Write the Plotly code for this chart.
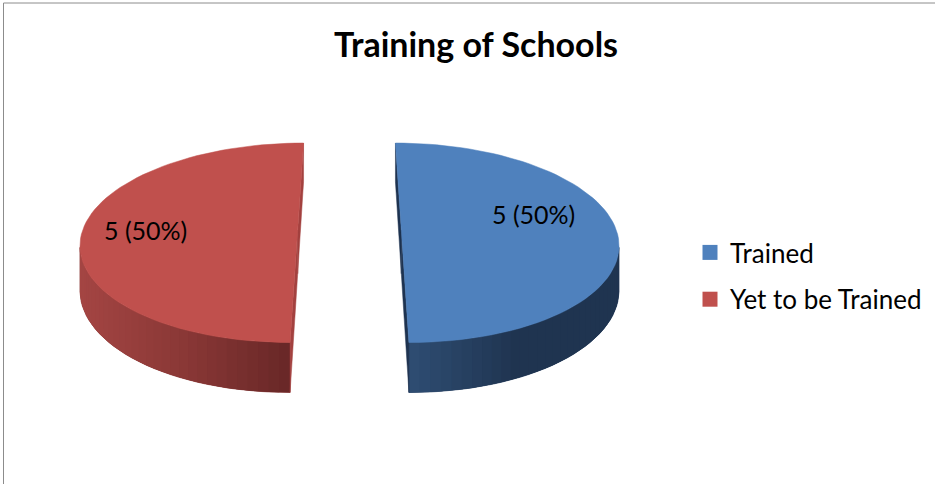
import numpy as np
import plotly.graph_objects as go

# ---- data -------------------------------------------------------------
categories = ["Trained", "Yet to be Trained"]
schools = [5, 5]

# ---- style ------------------------------------------------------------
top_colors = ["#4F81BD", "#C0504D"]
side_stops = [["#2E4C71", "#1F3450", "#1F3450"], ["#A44543", "#8A3836", "#6A2828"]]
side_base = ["#243D5E", "#8A3836"]
cut_colors = ["#1E3350", "#A3413F"]
FONT = "Lato"

W, H = 935, 484
CX, CY = 349.5, 230.0       # pie centre (px)
RX, RY = 215.0, 98.1        # ellipse radii of the top face
PERSP = 0.128               # perspective strength
DEPTH = 43.6                # pie thickness
EXPLODE = 0.241             # slice pull-out (fraction of radius)
N_ARC = 73                  # points along each slice's rim


def project(u, v, z):
    f = 1.0 / (1.0 + PERSP * v)
    return CX + RX * u * f, CY - RY * v * f + DEPTH * z * f


def hex2rgb(h):
    h = h.lstrip("#")
    return np.array([int(h[i:i + 2], 16) for i in (0, 2, 4)], float)


def lerp_color(stops, t):
    t = min(max(t, 0.0), 1.0) * (len(stops) - 1)
    i = min(int(t), len(stops) - 2)
    c = hex2rgb(stops[i]) * (1 - (t - i)) + hex2rgb(stops[i + 1]) * (t - i)
    return "rgb(%d,%d,%d)" % tuple(np.round(c))


def signed_area(xs, ys):
    n = len(xs)
    return 0.5 * sum(xs[i] * ys[(i + 1) % n] - xs[(i + 1) % n] * ys[i] for i in range(n))


def poly(xs, ys, color, lw=0.0):
    return go.Scatter(x=list(xs) + [xs[0]], y=list(ys) + [ys[0]], mode="lines",
                      fill="toself", fillcolor=color,
                      line=dict(color=color, width=lw),
                      hoverinfo="skip", showlegend=False)


fig = go.Figure()

total = float(sum(schools))
bounds = np.concatenate([[0.0], np.cumsum(schools) / total]) * 2 * np.pi

for k, (name, val) in enumerate(zip(categories, schools)):
    a0, a1 = bounds[k], bounds[k + 1]
    am = 0.5 * (a0 + a1)
    ou, ov = EXPLODE * np.sin(am), EXPLODE * np.cos(am)

    th = np.linspace(a0, a1, N_ARC)
    u = ou + np.sin(th)
    v = ov + np.cos(th)

    # outer rim: indices of front-facing segments
    front = []
    for i in range(len(th) - 1):
        xa, ya = project(u[i], v[i], 0)
        xb, yb = project(u[i + 1], v[i + 1], 0)
        xc, yc = project(u[i + 1], v[i + 1], 1)
        xd, yd = project(u[i], v[i], 1)
        if signed_area([xa, xb, xc, xd], [ya, yb, yc, yd]) < 0:
            front.append(i)
    if front:
        i0, i1 = front[0], front[-1] + 1
        # solid band under the whole visible rim
        ts = np.arange(i0, i1 + 1)
        txs, tys = project(u[ts], v[ts], 0)
        bxs, bys = project(u[ts], v[ts], 1)
        fig.add_trace(poly(list(txs) + list(bxs[::-1]), list(tys) + list(bys[::-1]),
                           side_base[k], lw=0.6))
        # shaded strips, each overlapping the next one to hide seams
        mids = [project(0.5 * (u[i] + u[i + 1]), 0.5 * (v[i] + v[i + 1]), 0.5)[0] for i in front]
        lo, hi = min(mids), max(mids)
        for i, m in zip(front, mids):
            j = min(i + 2, i1)
            seg = np.arange(i, j + 1)
            sx, sy = project(u[seg], v[seg], 0)
            ex, ey = project(u[seg], v[seg], 1)
            t = (m - lo) / (hi - lo) if hi > lo else 0
            fig.add_trace(poly(list(sx) + list(ex[::-1]), list(sy) + list(ey[::-1]),
                               lerp_color(side_stops[k], t)))

    # radial cut faces
    for a in (a0, a1):
        cu, cv = ou + np.sin(a), ov + np.cos(a)
        p = [project(ou, ov, 0), project(cu, cv, 0), project(cu, cv, 1), project(ou, ov, 1)]
        fig.add_trace(poly([q[0] for q in p], [q[1] for q in p], cut_colors[k], lw=0.5))

    # top face
    tx, ty = project(u, v, 0)
    cx0, cy0 = project(ou, ov, 0)
    fig.add_trace(poly([cx0] + list(tx), [cy0] + list(ty), top_colors[k], lw=0.5))

# legend entries
for k, name in enumerate(categories):
    fig.add_trace(go.Scatter(x=[None], y=[None], mode="markers", name=name,
                             legendgroup=name,
                             marker=dict(symbol="square", size=15, color=top_colors[k])))

# value labels
label_pos = [(533, 214), (145, 230)]
for k, val in enumerate(schools):
    fig.add_annotation(x=label_pos[k][0], y=label_pos[k][1],
                       text="%d (%d%%)" % (val, round(val / total * 100)),
                       showarrow=False, font=dict(family=FONT, size=25, color="#000000"))

fig.add_shape(type="path", path="M 3.5 %d L 3.5 3 L %d 3" % (H, W), xref="x", yref="y",
              line=dict(color="#8C8C8C", width=1))

fig.update_layout(
    width=W, height=H, margin=dict(l=0, r=0, t=0, b=0),
    paper_bgcolor="white", plot_bgcolor="white",
    title=dict(text="<b>Training of Schools</b>", x=476 / W, xanchor="center",
               y=1 - 45 / H, yanchor="middle",
               font=dict(family=FONT, size=34, color="#000000")),
    xaxis=dict(range=[0, W], visible=False, fixedrange=True),
    yaxis=dict(range=[H, 0], visible=False, fixedrange=True),
    legend=dict(x=690 / W, y=1 - 276 / H, xanchor="left", yanchor="middle",
                font=dict(family=FONT, size=26, color="#000000"),
                tracegroupgap=10, bgcolor="rgba(0,0,0,0)"),
    showlegend=True,
)

fig.write_html("out.html")
